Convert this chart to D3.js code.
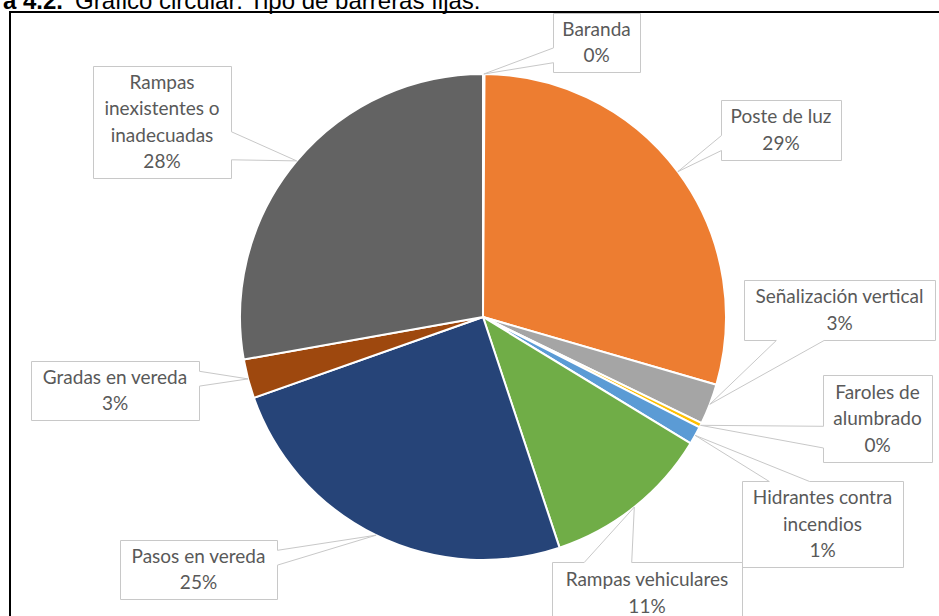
<!DOCTYPE html>
<html>
<head>
<meta charset="utf-8">
<script src="https://cdn.jsdelivr.net/npm/d3@7"></script>
<style>
  body { margin: 0; background: #fff; }
  svg { display: block; }
</style>
</head>
<body>
<svg id="chart" width="939" height="616"></svg>
<script>
// Tipo de barreras fijas: share of each barrier type (percent of total)
const categories = [
  "Baranda", "Poste de luz", "Señalización vertical", "Faroles de alumbrado",
  "Hidrantes contra incendios", "Rampas vehiculares", "Pasos en vereda",
  "Gradas en vereda", "Rampas inexistentes o inadecuadas"
];
const shares = [0.1, 29.4, 2.7, 0.3, 1.2, 11.2, 24.7, 2.6, 27.8];
// How each category name wraps inside its callout
const labelLines = [
  ["Baranda"], ["Poste de luz"], ["Señalización vertical"], ["Faroles de", "alumbrado"],
  ["Hidrantes contra", "incendios"], ["Rampas vehiculares"], ["Pasos en vereda"],
  ["Gradas en vereda"], ["Rampas", "inexistentes o", "inadecuadas"]
];
const sliceColors = ["#4472C4", "#ED7D31", "#A5A5A5", "#FFC000", "#5B9BD5",
                     "#70AD47", "#264478", "#9E480E", "#636363"];

// Callout boxes: [left, top, width, height]
const calloutBoxes = [
  [553, 13, 87, 59], [721, 100, 120, 60], [744, 280, 191, 60], [823, 375, 109, 87],
  [742, 481, 161, 86], [552, 562, 190, 62], [120, 540, 157, 59], [31, 361, 168, 59],
  [93, 66, 138, 112]
];

const svg = d3.select("#chart");
const W = 939, H = 616;
const cx = 483, cy = 317, R = 243;
const total = d3.sum(shares);
const pct = d3.format(".0%");

// Caption
svg.append("text")
  .attr("x", 63).attr("y", 9)
  .attr("text-anchor", "end")
  .style("font-family", "'Liberation Sans', Arial, sans-serif")
  .style("font-size", "24px").style("font-weight", "bold")
  .attr("fill", "#000")
  .text("Figura 4.2.");
svg.append("text")
  .attr("x", 75).attr("y", 9)
  .style("font-family", "'Liberation Sans', Arial, sans-serif")
  .style("font-size", "24px")
  .attr("fill", "#000")
  .text("Gráfico circular: Tipo de barreras fijas.");

// Frame around the chart
svg.append("rect")
  .attr("x", 10).attr("y", 12)
  .attr("width", W + 20).attr("height", H + 20)
  .attr("fill", "none").attr("stroke", "#000").attr("stroke-width", 2);

const pie = d3.pie().sort(null).value(d => d);
const arcs = pie(shares);
const arc = d3.arc().innerRadius(0).outerRadius(R);

const g = svg.append("g").attr("transform", `translate(${cx},${cy})`);
g.selectAll("path.slice")
  .data(arcs)
  .join("path")
  .attr("class", "slice")
  .attr("d", arc)
  .attr("fill", (d, i) => sliceColors[i])
  .attr("stroke", "#fff")
  .attr("stroke-width", 2)
  .attr("stroke-linejoin", "round");

// Wedge-rectangle callout: box with a pointer to the tip
function calloutPath(b, tip) {
  const x = b[0] + 0.5, y = b[1] + 0.5, w = b[2], h = b[3];
  const bx = x + w / 2, by = y + h / 2;
  const dx = (tip[0] - bx) / w, dy = (tip[1] - by) / h;
  let pts;
  if (Math.abs(dx) > Math.abs(dy)) {
    const f = tip[1] > by ? [7 / 12, 10 / 12] : [2 / 12, 5 / 12];
    const ya = y + h * f[0], yb = y + h * f[1];
    if (dx < 0) pts = [[x, y], [x + w, y], [x + w, y + h], [x, y + h], [x, yb], tip, [x, ya]];
    else pts = [[x, y], [x + w, y], [x + w, ya], tip, [x + w, yb], [x + w, y + h], [x, y + h]];
  } else {
    const f = tip[0] > bx ? [7 / 12, 10 / 12] : [2 / 12, 5 / 12];
    const xa = x + w * f[0], xb = x + w * f[1];
    if (dy < 0) pts = [[x, y], [xa, y], tip, [xb, y], [x + w, y], [x + w, y + h], [x, y + h]];
    else pts = [[x, y], [x + w, y], [x + w, y + h], [xb, y + h], tip, [xa, y + h], [x, y + h]];
  }
  return "M" + pts.map(p => p[0].toFixed(1) + "," + p[1].toFixed(1)).join("L") + "Z";
}

const lineH = 26.5;
const labels = svg.append("g").attr("class", "callouts");
arcs.forEach((d, i) => {
  const mid = (d.startAngle + d.endAngle) / 2;
  const p = d3.pointRadial(mid, R);
  const tip = [cx + p[0], cy + p[1]];
  const b = calloutBoxes[i];
  labels.append("path")
    .attr("d", calloutPath(b, tip))
    .attr("fill", "#fff")
    .attr("stroke", "#c8c8c8")
    .attr("stroke-width", 1);
  const lines = labelLines[i].concat([pct(d.data / total)]);
  const tx = b[0] + b[2] / 2, tyc = b[1] + b[3] / 2;
  const t = labels.append("text")
    .attr("text-anchor", "middle")
    .style("font-family", "Lato, 'Open Sans', sans-serif")
    .style("font-size", "19px")
    .attr("fill", "#595959");
  lines.forEach((s, k) => {
    t.append("tspan")
      .attr("x", tx)
      .attr("y", tyc + (k - (lines.length - 1) / 2) * lineH + 6.5)
      .text(s);
  });
});
</script>
</body>
</html>
